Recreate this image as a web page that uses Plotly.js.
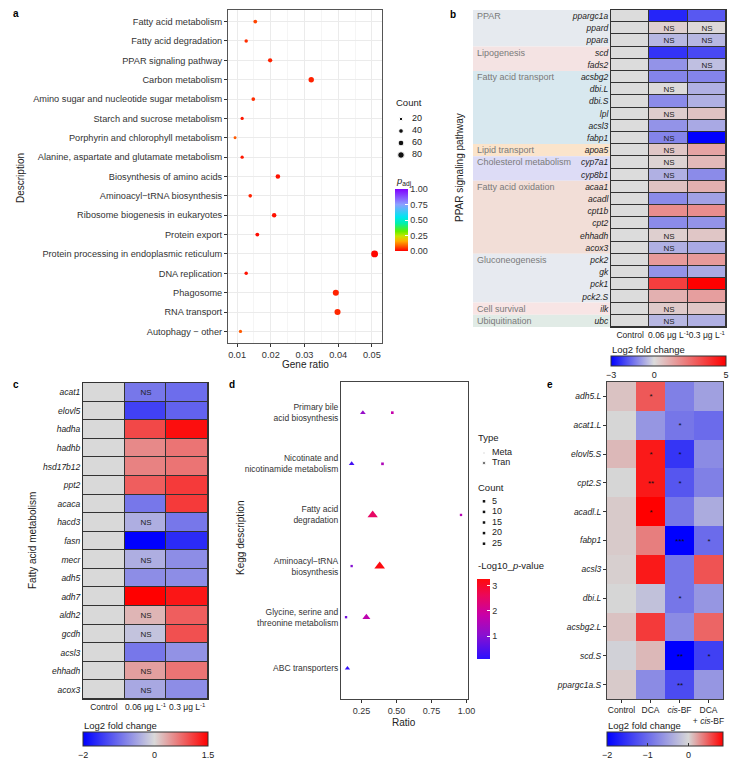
<!DOCTYPE html>
<html>
<head>
<meta charset="utf-8">
<script src="https://cdn.plot.ly/plotly-3.0.1.min.js"></script>
<style>
html, body { margin: 0; padding: 0; background: #fff; }
#chart { width: 743px; height: 764px; }
</style>
</head>
<body>
<div id="chart"></div>
<script>
// ---- panel a: enriched pathways
const pathwaysA = ['Fatty acid metabolism', 'Fatty acid degradation', 'PPAR signaling pathway', 'Carbon metabolism',
  'Amino sugar and nucleotide sugar metabolism', 'Starch and sucrose metabolism', 'Porphyrin and chlorophyll metabolism',
  'Alanine, aspartate and glutamate metabolism', 'Biosynthesis of amino acids', 'Aminoacyl\u2212tRNA biosynthesis',
  'Ribosome biogenesis in eukaryotes', 'Protein export', 'Protein processing in endoplasmic reticulum',
  'DNA replication', 'Phagosome', 'RNA transport', 'Autophagy \u2212 other'];
const geneRatioA = [0.0154, 0.0127, 0.0198, 0.0320, 0.0148, 0.0115, 0.0094, 0.0115, 0.0221, 0.0139, 0.0210, 0.0160, 0.0508, 0.0127, 0.0393, 0.0398, 0.0110];
const countA = [26, 22, 34, 54, 25, 20, 16, 20, 38, 24, 36, 27, 86, 22, 67, 68, 19];
const padjA = [0.06, 0.04, 0.03, 0.03, 0.04, 0.02, 0.08, 0.02, 0.015, 0.03, 0.015, 0.01, 0.005, 0.015, 0.03, 0.035, 0.08];
const countLevelsA = [20, 40, 60, 80];

// ---- panel b: PPAR signaling pathway
const genesB = ['ppargc1a', 'ppard', 'ppara', 'scd', 'fads2', 'acsbg2', 'dbi.L', 'dbi.S', 'lpl', 'acsl3', 'fabp1', 'apoa5',
  'cyp7a1', 'cyp8b1', 'acaa1', 'acadl', 'cpt1b', 'cpt2', 'ehhadh', 'acox3', 'pck2', 'gk', 'pck1', 'pck2.S', 'ilk', 'ubc'];
const ctrlB = [0, 0, 0, 0, 0, 0, 0, 0, 0, 0, 0, 0, 0, 0, 0, 0, 0, 0, 0, 0, 0, 0, 0, 0, 0, 0];
const lowB = [-2.5, 0.3, -0.5, -2.3, -1.0, -1.2, 0.05, -1.1, 0.35, -1.0, -1.2, 0.5, 0.2, -0.6, 0.6, -1.1, 1.8, -1.1, 0.3, -0.6, 1.5, -1.0, 3.6, 1.0, 0.4, -0.5];
const highB = [-1.8, 0.1, -0.5, -2.0, -0.4, -1.2, -0.6, -0.6, 0.6, -0.7, -3.0, 1.3, 0.8, -1.1, 1.0, -0.8, 1.8, -1.0, 0.5, -0.7, 1.5, -0.7, 5.0, 1.4, 0.5, -0.6];
const sigLowB = ['', 'NS', 'NS', '', '', '', 'NS', '', 'NS', '', 'NS', 'NS', 'NS', 'NS', '', '', '', '', 'NS', 'NS', '', '', '', '', 'NS', 'NS'];
const sigHighB = ['', 'NS', 'NS', '', 'NS', '', '', '', '', '', '', '', '', '', '', '', '', '', '', '', '', '', '', '', '', ''];
const groupsB = ['PPAR', 'Lipogenesis', 'Fatty acid transport', 'Lipid transport', 'Cholesterol metabolism',
  'Fatty acid oxidation', 'Gluconeogenesis', 'Cell survival', 'Ubiquitination'];
const groupFirstB = ['ppargc1a', 'scd', 'acsbg2', 'apoa5', 'cyp7a1', 'acaa1', 'pck2', 'ilk', 'ubc'];
const groupLastB = ['ppara', 'fads2', 'fabp1', 'apoa5', 'cyp8b1', 'acox3', 'pck2.S', 'ilk', 'ubc'];
const groupFillB = ['#e6eaef', '#f4e3e3', '#d8e8ef', '#fbe4cb', '#dddcf6', '#f2ded7', '#e7eaf0', '#f8e5e5', '#e1ebe6'];

// ---- panel c: fatty acid metabolism
const genesC = ['acat1', 'elovl5', 'hadha', 'hadhb', 'hsd17b12', 'ppt2', 'acaca', 'hacd3', 'fasn', 'mecr', 'adh5',
  'adh7', 'aldh2', 'gcdh', 'acsl3', 'ehhadh', 'acox3'];
const ctrlC = [0, 0, 0, 0, 0, 0, 0, 0, 0, 0, 0, 0, 0, 0, 0, 0, 0];
const lowC = [-0.9, -1.4, 1.0, 0.55, 0.6, 0.85, -0.9, -0.4, -2.0, -0.4, -0.7, 1.5, 0.25, -0.2, -0.9, 0.4, -0.45];
const highC = [-1.0, -1.1, 1.4, 0.7, 0.7, 1.1, 1.1, -0.9, -1.6, -0.7, -0.7, 1.35, 0.85, 0.95, -0.65, 0.7, -0.7];
const sigLowC = ['NS', '', '', '', '', '', '', 'NS', '', 'NS', '', '', 'NS', 'NS', '', 'NS', 'NS'];
const sigHighC = ['', '', '', '', '', '', '', '', '', '', '', '', '', '', '', '', ''];
const doseCols = ['Control', '0.06', '0.3'];
const doseLabels = ['Control', '0.06 \u03bcg L<sup>-1</sup>', '0.3 \u03bcg L<sup>-1</sup>'];

// ---- panel d: KEGG joint pathways
const keggTerms = ['Primary bile acid biosynthesis', 'Nicotinate and nicotinamide metabolism', 'Fatty acid degradation',
  'Aminoacyl-tRNA biosynthesis', 'Glycine, serine and threonine metabolism', 'ABC transporters'];
const keggLabels = ['Primary bile<br>acid biosynthesis', 'Nicotinate and<br>nicotinamide metabolism', 'Fatty acid<br>degradation',
  'Aminoacyl\u2212tRNA<br>biosynthesis', 'Glycine, serine and<br>threonine metabolism', 'ABC transporters'];
const tranTerms = keggTerms;
const tranRatio = [0.26, 0.18, 0.33, 0.38, 0.285, 0.15];
const tranCount = [9, 9, 21, 22, 15, 8];
const tranLogP = [1.2, 0.35, 2.5, 3.2, 1.7, 0.2];
const metaTerms = keggTerms.slice(0, 5);
const metaRatio = [0.47, 0.40, 0.96, 0.18, 0.14];
const metaCount = [2, 2, 1, 1, 1];
const metaLogP = [1.8, 1.5, 1.6, 1.0, 0.8];
const typeLevels = ['Meta', 'Tran'];
const countLevelsD = [5, 10, 15, 20, 25];

// ---- panel e: DCA / cis-BF
const genesE = ['adh5.L', 'acat1.L', 'elovl5.S', 'cpt2.S', 'acadl.L', 'fabp1', 'acsl3', 'dbi.L', 'acsbg2.L', 'scd.S', 'ppargc1a.S'];
const ctrlE = [0.08, 0.0, 0.12, 0.0, 0.05, 0.05, 0.03, 0.0, 0.08, -0.05, 0.05];
const dcaE = [0.5, -0.6, 0.75, 0.75, 0.85, 0.35, 0.75, -0.2, 0.62, 0.12, -0.7];
const cisE = [-0.8, -0.9, -1.5, -1.2, -0.9, -2.0, -0.9, -0.9, -0.7, -2.0, -1.3];
const comboE = [-0.5, -1.0, -0.7, -0.8, -0.4, -1.0, 0.52, -0.6, 0.45, -1.4, -0.6];
const starDca = ['*', '', '*', '**', '*', '', '', '', '', '', ''];
const starCis = ['', '*', '*', '*', '', '***', '', '*', '', '**', '**'];
const starCombo = ['', '', '', '', '', '*', '', '', '', '*', ''];
const treatCols = ['Control', 'DCA', 'cis-BF', 'DCA + cis-BF'];
const treatLabels = ['Control', 'DCA', '<i>cis</i>-BF', 'DCA<br>+ <i>cis</i>-BF'];

// ---- helpers
const W = 743, H = 764;
const px = x => x / W;
const py = y => 1 - y / H;
const FONT = 'Liberation Sans, Arial, sans-serif';
const sizeA = c => 0.74 * Math.sqrt(c);
const sizeD = c => 2 + 0.33 * c;
const rows = (...cols) => cols[0].map((_, i) => cols.map(c => c[i]));

const rainbow = [[0, '#ff0000'], [0.08, '#ff5a00'], [0.16, '#ffae00'], [0.24, '#c8e600'], [0.32, '#5ef000'],
  [0.45, '#00f0b0'], [0.55, '#00e6f0'], [0.75, '#8ca0ff'], [1, '#8000ff']];
const purpleRed = [[0, '#2a10ff'], [0.3, '#8a10d0'], [0.55, '#c800a8'], [0.8, '#ec0858'], [1, '#ff0a0a']];

const traces = [];

// a
traces.push({
  type: 'scatter', mode: 'markers', xaxis: 'x', yaxis: 'y',
  x: geneRatioA, y: pathwaysA,
  marker: {
    size: countA.map(sizeA), color: padjA, colorscale: rainbow, cmin: 0, cmax: 1,
    opacity: 1, line: { width: 0 },
    colorbar: {
      x: px(395), xanchor: 'left', y: py(220), yanchor: 'middle', len: 62, lenmode: 'pixels',
      thickness: 13, xpad: 0, ypad: 0, outlinewidth: 0,
      tickvals: [0, 0.25, 0.5, 0.75, 1], tickformat: '.2f', ticks: 'inside', ticklen: 3, tickcolor: '#fff',
      tickfont: { size: 9, color: '#333' }
    }
  },
  hoverinfo: 'x+y'
});

// b
traces.push({
  type: 'heatmap', xaxis: 'x2', yaxis: 'y2',
  x: doseCols, y: genesB, z: rows(ctrlB, lowB, highB),
  text: rows(ctrlB.map(() => ''), sigLowB, sigHighB), texttemplate: '%{text}',
  textfont: { size: 8, color: '#222' },
  zmin: -3, zmax: 5, xgap: 1, ygap: 1,
  colorscale: [[0, '#0000ff'], [0.375, '#dcdcdc'], [1, '#ff0000']],
  colorbar: {
    orientation: 'h', x: px(668.5), xanchor: 'center', y: py(356), yanchor: 'top', len: 115, lenmode: 'pixels',
    thickness: 10, xpad: 0, ypad: 0, outlinewidth: 1, outlinecolor: '#333',
    tickvals: [-3, 0, 5], ticks: '', tickfont: { size: 9, color: '#222' }
  }
});

// c
traces.push({
  type: 'heatmap', xaxis: 'x3', yaxis: 'y3',
  x: doseCols, y: genesC, z: rows(ctrlC, lowC, highC),
  text: rows(ctrlC.map(() => ''), sigLowC, sigHighC), texttemplate: '%{text}',
  textfont: { size: 8, color: '#222' },
  zmin: -2, zmax: 1.5, xgap: 1, ygap: 1,
  colorscale: [[0, '#0000ff'], [0.5714, '#d9d9d9'], [1, '#ff0000']],
  colorbar: {
    orientation: 'h', x: px(145.5), xanchor: 'center', y: py(732), yanchor: 'top', len: 125, lenmode: 'pixels',
    thickness: 14, xpad: 0, ypad: 0, outlinewidth: 1, outlinecolor: '#333',
    tickvals: [-2, 0, 1.5], ticks: '', tickfont: { size: 9, color: '#222' }
  }
});

// d
traces.push({
  type: 'scatter', mode: 'markers', xaxis: 'x4', yaxis: 'y4',
  x: metaRatio, y: metaTerms,
  marker: { symbol: 'square', size: metaCount.map(sizeD), color: metaLogP, coloraxis: 'coloraxis', opacity: 1, line: { width: 0 } }
});
traces.push({
  type: 'scatter', mode: 'markers', xaxis: 'x4', yaxis: 'y4',
  x: tranRatio, y: tranTerms,
  marker: { symbol: 'triangle-up', size: tranCount.map(sizeD), color: tranLogP, coloraxis: 'coloraxis', opacity: 1, line: { width: 0 } }
});

// e
traces.push({
  type: 'heatmap', xaxis: 'x5', yaxis: 'y5',
  x: treatCols, y: genesE, z: rows(ctrlE, dcaE, cisE, comboE),
  text: rows(ctrlE.map(() => ''), starDca, starCis, starCombo), texttemplate: '%{text}',
  textfont: { size: 8, color: '#111' },
  zmin: -2, zmax: 0.85,
  colorscale: [[0, '#0000ff'], [0.702, '#d6d6d6'], [1, '#ff0000']],
  colorbar: {
    orientation: 'h', x: px(665), xanchor: 'center', y: py(732), yanchor: 'top', len: 116, lenmode: 'pixels',
    thickness: 14, xpad: 0, ypad: 0, outlinewidth: 1, outlinecolor: '#333',
    tickvals: [-2, -1, 0], ticks: 'inside', ticklen: 3, tickcolor: '#333', tickfont: { size: 9, color: '#222' }
  }
});

// legend keys (drawn on small hidden axes)
traces.push({
  type: 'scatter', mode: 'markers', xaxis: 'x6', yaxis: 'y6', hoverinfo: 'skip',
  x: countLevelsA.map(() => 0), y: countLevelsA.map((_, i) => i),
  marker: { size: countLevelsA.map(sizeA), color: '#111', opacity: 1 }
});
traces.push({
  type: 'scatter', mode: 'text', xaxis: 'x6', yaxis: 'y6', hoverinfo: 'skip',
  x: countLevelsA.map(() => 1.1), y: countLevelsA.map((_, i) => i),
  text: countLevelsA.map(String), textposition: 'middle right', textfont: { size: 9, color: '#222' }
});
traces.push({
  type: 'scatter', mode: 'markers', xaxis: 'x7', yaxis: 'y7', hoverinfo: 'skip',
  x: typeLevels.map(() => 0), y: typeLevels.map((_, i) => i),
  marker: { symbol: 'square', size: [2, 2.5], color: ['#bbb', '#111'], opacity: 1 }
});
traces.push({
  type: 'scatter', mode: 'text', xaxis: 'x7', yaxis: 'y7', hoverinfo: 'skip',
  x: typeLevels.map(() => 0.8), y: typeLevels.map((_, i) => i),
  text: typeLevels, textposition: 'middle right', textfont: { size: 9, color: '#222' }
});
traces.push({
  type: 'scatter', mode: 'markers', xaxis: 'x8', yaxis: 'y8', hoverinfo: 'skip',
  x: countLevelsD.map(() => 0), y: countLevelsD.map((_, i) => i),
  marker: { symbol: 'square', size: 2.5, color: '#111' }
});
traces.push({
  type: 'scatter', mode: 'text', xaxis: 'x8', yaxis: 'y8', hoverinfo: 'skip',
  x: countLevelsD.map(() => 0.8), y: countLevelsD.map((_, i) => i),
  text: countLevelsD.map(String), textposition: 'middle right', textfont: { size: 9, color: '#222' }
});

const tickA = { size: 9.2, color: '#333' };
const frame = { showline: true, mirror: true, linewidth: 1, zeroline: false };
const hidden = { visible: false, fixedrange: true };

const shapes = [
  { type: 'rect', xref: 'x2 domain', yref: 'y2 domain', x0: 0, x1: 1, y0: 0, y1: 1, fillcolor: '#333', line: { width: 0 }, layer: 'below' },
  { type: 'rect', xref: 'x3 domain', yref: 'y3 domain', x0: 0, x1: 1, y0: 0, y1: 1, fillcolor: '#333', line: { width: 0 }, layer: 'below' }
];
const annotations = [];
groupsB.forEach((g, i) => {
  const a = genesB.indexOf(groupFirstB[i]), b = genesB.indexOf(groupLastB[i]);
  shapes.push({ type: 'rect', xref: 'paper', yref: 'y2', x0: px(473), x1: px(611), y0: a - 0.5, y1: b + 0.5,
    fillcolor: groupFillB[i], line: { width: 0 }, layer: 'below' });
  annotations.push({ text: g, xref: 'paper', yref: 'y2', x: px(475), y: a, xanchor: 'left', yanchor: 'middle',
    showarrow: false, font: { size: 9, color: '#7a7a7a' } });
});

const note = (text, x, y, opts = {}) => Object.assign({
  text, xref: 'paper', yref: 'paper', x: px(x), y: py(y), showarrow: false,
  xanchor: 'left', yanchor: 'middle', font: { size: 9, color: '#222' }
}, opts);

annotations.push(
  note('<b>a</b>', 11, 13, { font: { size: 10, color: '#000' } }),
  note('<b>b</b>', 448, 14, { font: { size: 10, color: '#000' } }),
  note('<b>c</b>', 11, 384, { font: { size: 10, color: '#000' } }),
  note('<b>d</b>', 227, 384, { font: { size: 10, color: '#000' } }),
  note('<b>e</b>', 545, 384, { font: { size: 10, color: '#000' } }),
  note('Description', 20, 178, { xanchor: 'center', textangle: -90, font: { size: 10, color: '#222' } }),
  note('Gene ratio', 305, 364, { xanchor: 'center', font: { size: 10, color: '#222' } }),
  note('Count', 394, 103, { font: { size: 9.5, color: '#222' } }),
  note('<i>p</i><sub>adj</sub>', 394, 181, { font: { size: 9.5, color: '#222' } }),
  note('PPAR signaling pathway', 459, 168, { xanchor: 'center', textangle: -90, font: { size: 10, color: '#222' } }),
  note('Log2 fold change', 610, 349, { font: { size: 9.5, color: '#222' } }),
  note('Fatty acid metabolism', 32, 541, { xanchor: 'center', textangle: -90, font: { size: 10, color: '#222' } }),
  note('Log2 fold change', 82, 725, { font: { size: 9.5, color: '#222' } }),
  note('Kegg description', 240, 537, { xanchor: 'center', textangle: -90, font: { size: 10, color: '#222' } }),
  note('Ratio', 404, 722, { xanchor: 'center', font: { size: 10, color: '#222' } }),
  note('Type', 476, 437, { font: { size: 9.5, color: '#222' } }),
  note('Count', 476, 487, { font: { size: 9.5, color: '#222' } }),
  note('-Log10_<i>p</i>-value', 476, 565, { font: { size: 9.5, color: '#222' } }),
  note('Log2 fold change', 606, 725, { font: { size: 9.5, color: '#222' } })
);

const layout = {
  width: W, height: H, margin: { l: 0, r: 0, t: 0, b: 0 },
  paper_bgcolor: '#fff', plot_bgcolor: '#fff', showlegend: false,
  font: { family: FONT, size: 9, color: '#222' },
  shapes, annotations,
  coloraxis: {
    cmin: 0.1, cmax: 3.25, colorscale: purpleRed,
    colorbar: {
      x: px(477), xanchor: 'left', y: py(619), yanchor: 'middle', len: 80, lenmode: 'pixels',
      thickness: 13, xpad: 0, ypad: 0, outlinewidth: 0,
      tickvals: [1, 2, 3], ticks: 'inside', ticklen: 3, tickcolor: '#fff', tickfont: { size: 9, color: '#333' }
    }
  },
  // a
  xaxis: Object.assign({}, frame, {
    domain: [px(228), px(382)], anchor: 'y', range: [0.0073, 0.053],
    tickvals: [0.01, 0.02, 0.03, 0.04, 0.05], ticks: 'outside', ticklen: 3, tickcolor: '#333',
    tickfont: { size: 9.2, color: '#333' }, linecolor: '#555', showgrid: true, gridcolor: '#ebebeb',
    minor: { tickvals: [0.0075, 0.015, 0.025, 0.035, 0.045], showgrid: true, gridcolor: '#f5f5f5', ticks: '' }
  }),
  yaxis: Object.assign({}, frame, {
    domain: [py(343), py(10)], anchor: 'x', type: 'category', categoryarray: pathwaysA, range: [16.6, -0.6],
    ticks: 'outside', ticklen: 3, tickcolor: '#333', tickfont: tickA, linecolor: '#555',
    showgrid: true, gridcolor: '#ebebeb'
  }),
  // b
  xaxis2: Object.assign({}, frame, {
    domain: [px(611), px(726)], anchor: 'y2', type: 'category', range: [-0.5, 2.5], tickangle: 0,
    tickvals: doseCols, ticktext: doseLabels, ticks: '', tickfont: { size: 8.5, color: '#222' }, linecolor: '#333', showgrid: false
  }),
  yaxis2: Object.assign({}, frame, {
    domain: [py(327), py(10)], anchor: 'x2', type: 'category', range: [25.5, -0.5],
    ticks: '', tickfont: { size: 8.5, color: '#222', style: 'italic' }, linecolor: '#333', showgrid: false
  }),
  // c
  xaxis3: Object.assign({}, frame, {
    domain: [px(83), px(208)], anchor: 'y3', type: 'category', range: [-0.5, 2.5], tickangle: 0,
    tickvals: doseCols, ticktext: doseLabels, ticks: '', tickfont: { size: 8.5, color: '#222' }, linecolor: '#333', showgrid: false
  }),
  yaxis3: Object.assign({}, frame, {
    domain: [py(699), py(383)], anchor: 'x3', type: 'category', range: [16.5, -0.5],
    ticks: '', tickfont: { size: 8.5, color: '#222', style: 'italic' }, linecolor: '#333', showgrid: false
  }),
  // d
  xaxis4: Object.assign({}, frame, {
    domain: [px(341), px(468)], anchor: 'y4', range: [0.104, 1.01],
    tickvals: [0.25, 0.5, 0.75, 1], tickformat: '.2f', ticks: 'outside', ticklen: 3, tickcolor: '#333',
    tickfont: { size: 9, color: '#333' }, linecolor: '#444', showgrid: false
  }),
  yaxis4: Object.assign({}, frame, {
    domain: [py(699), py(382)], anchor: 'x4', type: 'category', categoryarray: keggTerms, range: [5.6, -0.6],
    tickvals: keggTerms, ticktext: keggLabels, ticks: '', tickfont: { size: 8.5, color: '#333' }, linecolor: '#444', showgrid: false
  }),
  // e
  xaxis5: Object.assign({}, frame, {
    domain: [px(607), px(723)], anchor: 'y5', type: 'category', range: [-0.5, 3.5], tickangle: 0,
    tickvals: treatCols, ticktext: treatLabels, ticks: 'outside', ticklen: 3, tickcolor: '#333',
    tickfont: { size: 8.5, color: '#222' }, linecolor: '#444', showgrid: false
  }),
  yaxis5: Object.assign({}, frame, {
    domain: [py(699), py(382)], anchor: 'x5', type: 'category', range: [10.5, -0.5],
    ticks: 'outside', ticklen: 3, tickcolor: '#333',
    tickfont: { size: 8.5, color: '#222', style: 'italic' }, linecolor: '#444', showgrid: false
  }),
  // legend key axes
  xaxis6: Object.assign({}, hidden, { domain: [px(391), px(451)], range: [-1, 5], anchor: 'y6' }),
  yaxis6: Object.assign({}, hidden, { domain: [py(161), py(113)], range: [3.5, -0.5], anchor: 'x6' }),
  xaxis7: Object.assign({}, hidden, { domain: [px(474), px(534)], range: [-1, 5], anchor: 'y7' }),
  yaxis7: Object.assign({}, hidden, { domain: [py(468), py(448)], range: [1.5, -0.5], anchor: 'x7' }),
  xaxis8: Object.assign({}, hidden, { domain: [px(474), px(534)], range: [-1, 5], anchor: 'y8' }),
  yaxis8: Object.assign({}, hidden, { domain: [py(549), py(496)], range: [4.5, -0.5], anchor: 'x8' })
};

Plotly.newPlot('chart', traces, layout, { displayModeBar: false, responsive: false });
</script>
</body>
</html>
